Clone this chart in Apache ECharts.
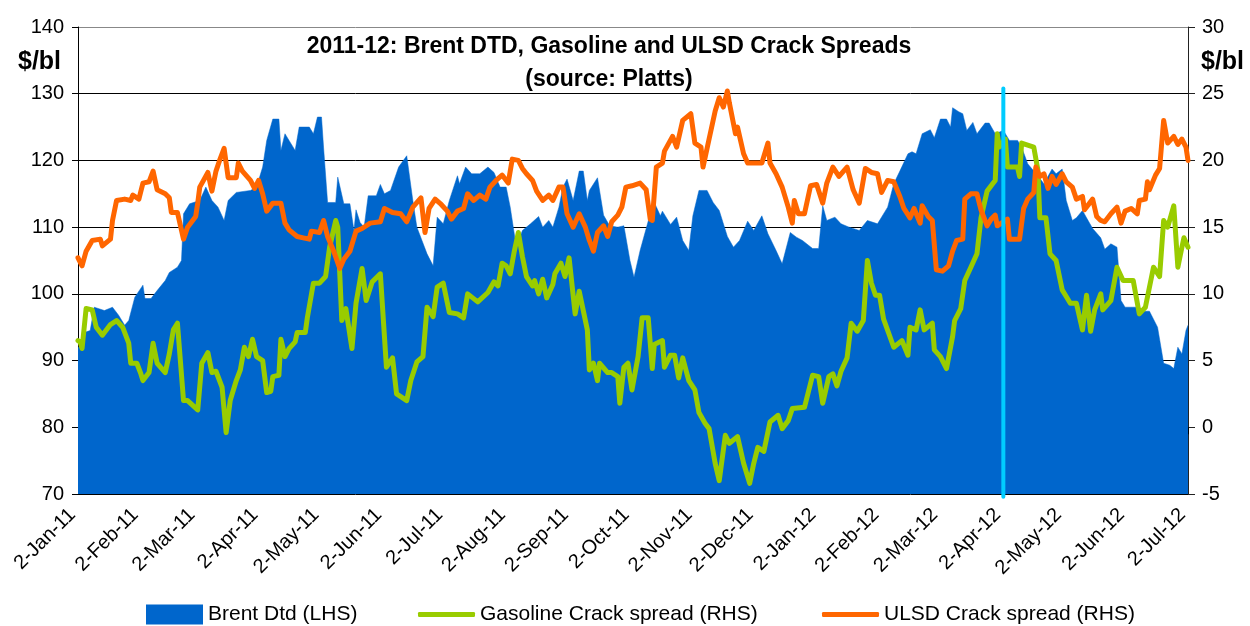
<!DOCTYPE html>
<html>
<head>
<meta charset="utf-8">
<script src="https://cdn.jsdelivr.net/npm/echarts@6/dist/echarts.min.js"></script>
<style>
html,body{margin:0;padding:0;background:#fff;}
#chart{width:1250px;height:626px;}
</style>
</head>
<body>
<div id="chart"></div>
<script>
// ---- DATA (x values = days since 2-Jan-2011) ----
const monthTicks = ['2011-01-02','2011-02-02','2011-03-02','2011-04-02','2011-05-02','2011-06-02','2011-07-02','2011-08-02','2011-09-02','2011-10-02','2011-11-02','2011-12-02','2012-01-02','2012-02-02','2012-03-02','2012-04-02','2012-05-02','2012-06-02','2012-07-02'];
const tickLabels = ['2-Jan-11','2-Feb-11','2-Mar-11','2-Apr-11','2-May-11','2-Jun-11','2-Jul-11','2-Aug-11','2-Sep-11','2-Oct-11','2-Nov-11','2-Dec-11','2-Jan-12','2-Feb-12','2-Mar-12','2-Apr-12','2-May-12','2-Jun-12','2-Jul-12'];

const brentDay = [0,1,3,6,8,13,17,20,23,25,
 28,32,33,36,39,43,45,49,51,52,
 55,60,63,66,69,72,74,78,85,88,
 91,93,96,99,100,102,104,107,109,114,
 116,118,120,121,123,127,128,131,134,136,
 137,139,141,143,147,149,151,154,158,162,
 165,167,172,175,177,180,183,187,188,191,
 194,198,202,205,208,211,213,216,219,223,
 227,229,232,234,237,239,241,244,247,249,
 251,252,256,259,262,266,269,272,274,277,
 282,284,287,288,292,295,298,301,303,306,
 310,313,316,320,323,326,330,333,337,340,
 344,347,351,354,357,362,365,367,369,373,
 376,380,385,389,394,399,402,405,409,411,
 413,416,420,422,425,428,430,431,434,436,
 438,441,443,447,449,452,456,459,463,465,
 468,473,476,480,482,485,487,490,492,495,
 497,500,504,506,509,512,514,516,523,525,
 528,532,535,538,540,542,544,546,547];
const brentValue = [92,92,94.2,94.5,98,97.5,98,96.8,95.3,96,
 99.5,101.3,99.3,99.3,100.5,102,103.2,104,105,112,
 113.5,114,116,114,113,111,114,115.2,115.5,116,
 119,123,126.2,126.2,121.5,124,123,121.5,125,125,
 124,126.5,126.5,122,113.7,113.7,117.5,113.5,113.5,109.5,
 112.6,110.7,110,114.7,114.7,116.4,115,115.5,119,120.7,
 114,110,106,104.2,111.5,110.5,114,117.7,116.5,119,
 118,118,119,118.2,116,116,113,107,109.5,110.5,
 111.6,110,111,110,113,116,117.2,114,118.4,118.4,
 114,115.5,117.4,111.8,110.2,110,110.2,105,102.5,106.5,
 112,113.7,111.7,112.4,110.4,111.5,108,106.5,111.7,115.5,
 115.5,113.7,112.5,108.6,107,108,110.9,109.5,111.7,109,
 106.5,104.5,109.2,108.5,108,106.8,106.8,113.2,111,111.5,
 110.5,110,109.5,111,110.5,113,116.5,118.4,121,121.3,
 121,124,124.6,123.4,126.2,126.2,125,127.9,127.3,127,
 124.5,125.7,124,125.6,125.6,124,124.5,123,123,122,
 119.5,117.7,116.5,118.7,118,118.7,114,111,111.4,112.5,
 111.4,109.8,108.4,106.7,107.5,107,99,98,98,97.4,
 97.4,95,89.6,89.3,88.8,92,91,94.5,95.3];

const gasDay = [0,1,2,4,7,9,12,16,19,22,
 25,26,29,31,32,35,37,39,43,45,
 47,49,52,54,59,61,64,66,68,71,
 73,75,78,80,82,84,86,88,91,93,
 95,96,99,100,102,104,107,108,112,113,
 116,119,122,124,127,128,130,132,135,137,
 140,142,145,149,152,155,157,162,164,167,
 170,172,175,177,180,183,187,190,192,197,
 202,205,207,209,211,213,215,217,219,221,
 224,225,227,229,231,234,235,238,240,242,
 245,247,251,252,254,256,257,261,263,266,
 267,269,271,273,276,278,281,283,284,288,
 289,292,294,296,298,301,304,306,309,311,
 314,316,319,321,325,328,331,333,335,338,
 341,345,347,350,352,358,362,365,367,370,
 372,374,376,379,381,384,387,389,391,393,
 395,397,402,406,409,410,413,415,417,421,
 422,425,428,431,432,435,437,440,443,445,
 448,451,452,453,454,457,458,463,464,465,
 471,473,474,477,479,482,485,487,489,492,
 495,497,499,501,504,505,509,512,515,520,
 523,526,528,530,533,535,537,540,542,544,
 545,547];
const gasValue = [6.5,6.4,5.9,8.9,8.8,7.5,6.9,7.7,8,7.5,
 6.3,4.8,4.8,4,3.5,4.1,6.3,4.8,4.1,5.5,
 7.3,7.8,2,2,1.3,4.8,5.6,4.1,4.2,3,
 -0.4,2,3.5,4.3,6,5.3,6.6,5.3,5,2.6,
 2.7,3.8,3.9,6.6,5.3,5.9,6.4,7.1,7.1,8.2,
 10.8,10.8,11.3,13.5,15.5,15,8,8.9,5.9,9.3,
 11.9,9.5,10.9,11.5,4.5,5.2,2.5,2,3.5,4.9,
 5.3,9,8.3,10.5,10.8,8.6,8.5,8.2,10,9.4,
 10.1,10.9,10.6,12.3,12.1,11.5,13.2,14.6,12.8,11.3,
 10.6,11,10,11.1,9.7,10.7,11.5,12.3,11.3,12.7,
 8.5,10.2,7.3,4.3,4.8,3.5,4.8,4.1,4.1,3.8,
 1.8,4.5,4.8,2.8,5.3,8.2,8.2,4.4,6.2,6.5,
 4.5,5.4,5.4,3.7,5.2,3.5,2.8,1.1,0.3,-0.1,
 -2.7,-4,-0.6,-1.2,-0.7,-2.7,-4.2,-2.7,-1.5,-1.8,
 0.4,0.9,-0.1,0.5,1.4,1.5,3.9,3.8,1.8,3.8,
 4,3.1,4.2,5.2,7.8,7.2,8,12.5,10.8,9.9,
 9.9,8.1,6,6.5,5.4,7.5,7.3,8.8,7.3,7.8,
 5.8,5.3,4.4,6.8,8,8.9,11,12,13,15.7,
 17.7,18.3,18.5,22,21,21.6,19.5,19.5,18.8,21.3,
 21,19.3,15.7,15.7,13,12.5,10.3,9.8,9.3,9.3,
 7.3,9.9,7.2,8.8,10,8.8,9.5,12,11,11,
 8.5,9,10.5,12,11.3,15.5,15,16.6,12,13.5,
 14.2,13.5];

const ulsdDay = [0,2,4,7,11,12,16,17,19,23,
 26,27,30,32,35,37,39,43,45,46,
 49,52,54,58,59,60,64,66,68,70,
 72,74,78,79,81,85,87,89,91,93,
 96,100,102,104,108,111,114,115,119,121,
 123,126,129,131,134,137,140,144,149,151,
 155,159,162,165,169,171,173,176,179,182,
 184,187,190,192,195,198,201,203,206,209,
 212,214,217,219,221,224,226,229,232,234,
 237,239,241,244,247,250,252,254,256,259,
 261,263,266,268,270,273,277,280,282,283,
 285,288,289,293,295,298,302,304,307,308,
 311,314,316,318,320,321,324,325,328,330,
 334,337,340,341,344,347,350,352,353,355,
 358,361,364,367,369,372,375,379,382,385,
 388,391,394,396,399,402,405,407,410,412,
 415,416,419,421,423,426,429,431,433,436,
 437,440,443,445,448,450,452,453,458,459,
 464,466,468,471,472,474,476,478,480,482,
 485,487,490,492,495,496,500,502,504,506,
 509,512,514,516,519,522,523,526,527,528,
 531,533,535,537,540,542,544,546,547];
const ulsdValue = [12.7,12.1,13.2,14,14.1,13.6,14.1,15.5,17,17.1,
 17,17.4,17.1,18.3,18.4,19.2,17.8,17.5,17.2,16.1,
 16.1,14.1,15,15.8,16.8,18,19.1,17.7,19.2,20.1,
 20.9,18.7,18.7,19.8,19.2,18.5,17.9,18.5,17.5,16.2,
 16.8,16.8,15.3,14.8,14.3,14.2,14.1,14.7,14.6,15.5,
 14.3,13.2,11.9,12.6,13.2,14.7,14.9,15.3,15.4,16.4,
 16.1,16,15.4,16.5,17.2,14.6,16.4,17.1,16.7,16.2,
 15.6,16.2,16.4,17.5,17,17.4,17.1,18,18.5,18.9,
 18.3,20.1,20,19.4,19,18.5,17.7,17,17.4,17,
 18,18,16,15,16,15,14,13.2,14.6,15.1,
 14.3,15.4,15.9,16.5,18,18.1,18.3,17.8,15.6,15.5,
 19.5,19.8,20.7,21.8,21,23,23.5,21.3,21,19.5,
 21.6,23.7,24.7,24,25.2,24.3,22,22.5,20.5,19.8,
 19.8,19.8,21.3,19.8,19,18,16.5,15.3,17,16,
 16,18.1,18.2,16.8,18.3,19.5,18.8,19.5,17.8,16.8,
 19.4,19.1,19,17.6,18.5,18.4,17.3,16.4,15.7,16.4,
 15.3,16.6,15.8,15.5,11.8,11.7,12.1,13.2,14,14.1,
 17.1,17.5,17.5,16.3,15.1,15.6,15.9,15.1,15.6,14.1,
 14.1,16.4,17.1,17.6,19.5,18.8,19,17.9,18.8,18.2,
 19,18.4,18,17.1,17.3,16.3,17.1,15.8,15.5,15.4,
 16,16.5,15.3,16.2,16.4,16,17,17.1,18.4,17.8,
 18.9,19.4,23,21.3,21.8,21.2,21.6,21,20];

const markerDate = '2012-04-02';
const markerRange = [25.4, -5.2];

// ---- BUILD ----
const DAY = 864e5;
function parseDate(s){const p=s.split('-').map(Number);return Date.UTC(p[0],p[1]-1,p[2]);}
const base = parseDate('2011-01-02');
const toTs = d => base + d*DAY;
const tickTs = monthTicks.map(parseDate);
function pairs(days, vals){const n=Math.min(days.length, vals.length);const out=[];for(let i=0;i<n;i++)out.push([toTs(days[i]), vals[i]]);return out;}
const markerTs = parseDate(markerDate);

const FONT = '"Liberation Sans", Arial, Helvetica, sans-serif';
const legendText = {fontSize:21, color:'#000', fontFamily:FONT};
const chart = echarts.init(document.getElementById('chart'), null, {renderer:'canvas'});
chart.setOption({
  animation:false,
  backgroundColor:'#fff',
  textStyle:{fontFamily:FONT},
  grid:{left:78, top:27, width:1110, height:467, containLabel:false},
  legend:[
    {data:[{name:'Brent Dtd (LHS)', icon:'rect'}], left:146, top:604, padding:0, itemWidth:57, itemHeight:20,
     textStyle:legendText, selectedMode:false},
    {data:[{name:'Gasoline Crack spread (RHS)', icon:'roundRect'}], left:418, top:604, padding:0, itemWidth:57, itemHeight:5,
     textStyle:legendText, selectedMode:false},
    {data:[{name:'ULSD Crack spread (RHS)', icon:'roundRect'}], left:822, top:604, padding:0, itemWidth:57, itemHeight:5,
     textStyle:legendText, selectedMode:false}
  ],
  graphic:[
    {type:'text', x:609, y:47, style:{text:'2011-12: Brent DTD, Gasoline and ULSD Crack Spreads', font:'bold 23px '+FONT, fill:'#000', textAlign:'center', textVerticalAlign:'middle'}},
    {type:'text', x:609, y:80, style:{text:'(source: Platts)', font:'bold 23px '+FONT, fill:'#000', textAlign:'center', textVerticalAlign:'middle'}},
    {type:'text', x:18, y:62, style:{text:'$/bl', font:'bold 25px '+FONT, fill:'#000', textAlign:'left', textVerticalAlign:'middle'}},
    {type:'text', x:1201, y:62, style:{text:'$/bl', font:'bold 25px '+FONT, fill:'#000', textAlign:'left', textVerticalAlign:'middle'}}
  ],
  xAxis:{
    type:'value', min:tickTs[0], max:tickTs[tickTs.length-1],
    axisLine:{show:true, lineStyle:{color:'#000', width:1}},
    axisTick:{show:true, customValues:tickTs, length:7, lineStyle:{color:'#000'}},
    axisLabel:{customValues:tickTs, rotate:45, margin:12, padding:[0,8,0,0], fontSize:20, color:'#000', fontFamily:FONT,
      formatter:function(v){for(let i=0;i<tickTs.length;i++){if(Math.abs(tickTs[i]-v)<DAY/2)return tickLabels[i];}return '';}},
    splitLine:{show:false}
  },
  yAxis:[
    {type:'value', position:'left', min:70, max:140, interval:10,
     axisLine:{show:true, lineStyle:{color:'#000'}},
     axisTick:{show:true, length:6, lineStyle:{color:'#000'}},
     axisLabel:{fontSize:20, color:'#000', margin:14, fontFamily:FONT},
     splitLine:{show:true, lineStyle:{color:['#000','#000','#000','#000','#000','#000','#000','#888'], width:1}}},
    {type:'value', position:'right', min:-5, max:30, interval:5,
     axisLine:{show:true, lineStyle:{color:'#222'}},
     axisTick:{show:true, length:7, lineStyle:{color:'#222'}},
     axisLabel:{fontSize:20, color:'#000', margin:14, fontFamily:FONT},
     splitLine:{show:false}}
  ],
  series:[
    {name:'Brent Dtd (LHS)', type:'line', yAxisIndex:0, data:pairs(brentDay, brentValue),
     showSymbol:false, symbol:'none', color:'#0066CC',
     lineStyle:{width:0.5, color:'#0066CC'}, areaStyle:{color:'#0066CC', opacity:1, origin:'start'}, z:2},
    {name:'Gasoline Crack spread (RHS)', type:'line', yAxisIndex:1, data:pairs(gasDay, gasValue),
     showSymbol:false, symbol:'none', color:'#99CC00',
     lineStyle:{width:5, color:'#99CC00', join:'round', cap:'round'}, z:3},
    {name:'ULSD Crack spread (RHS)', type:'line', yAxisIndex:1, data:pairs(ulsdDay, ulsdValue),
     showSymbol:false, symbol:'none', color:'#FF6600',
     lineStyle:{width:5, color:'#FF6600', join:'round', cap:'round'}, z:4},
    {name:'marker', type:'line', yAxisIndex:1, data:[[markerTs, markerRange[0]],[markerTs, markerRange[1]]],
     showSymbol:false, symbol:'none', clip:false, silent:true,
     lineStyle:{width:4, color:'#00CCFF', cap:'round'}, z:5}
  ]
});
</script>
</body>
</html>
